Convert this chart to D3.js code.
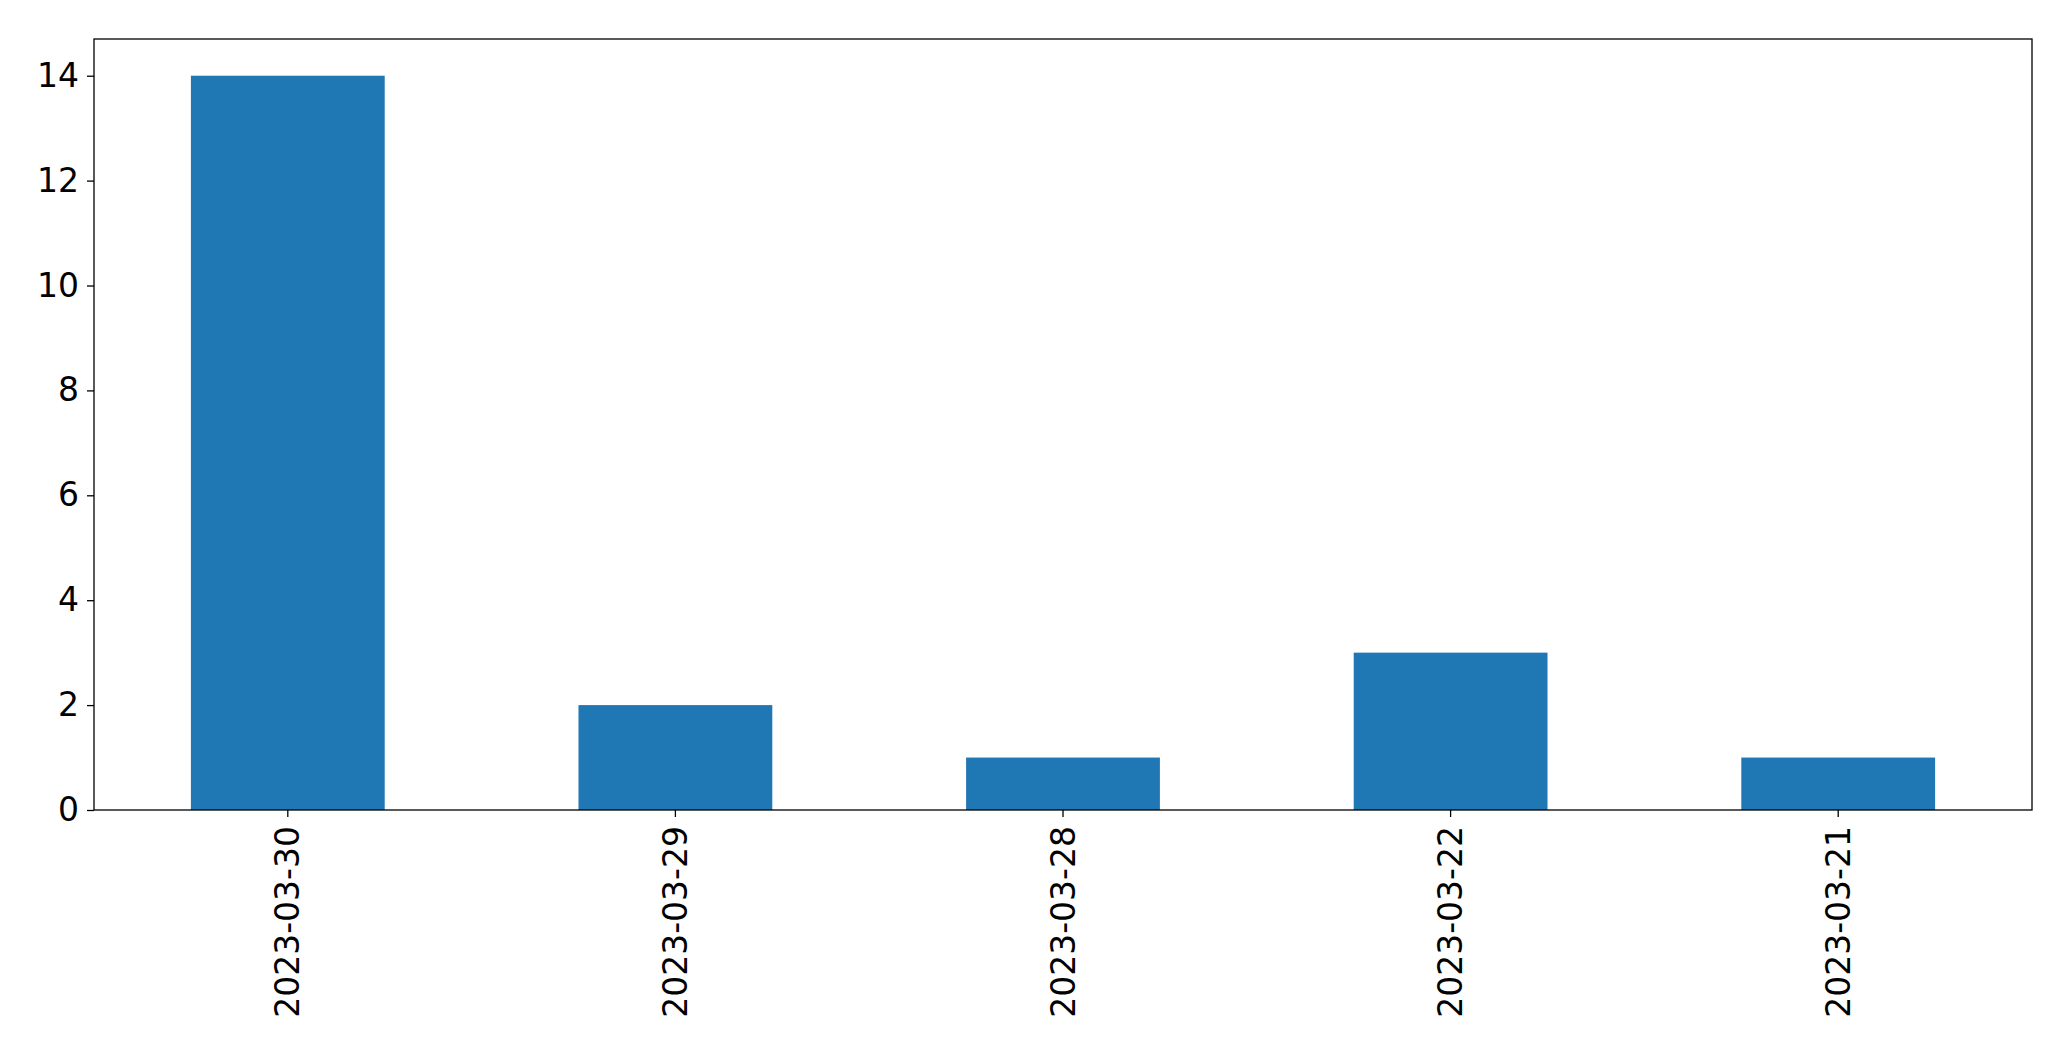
<!DOCTYPE html>
<html>
<head>
<meta charset="utf-8">
<script src="https://cdn.jsdelivr.net/npm/d3@7"></script>
<style>
  body { margin: 0; background: #fff; }
  text { font-family: "DejaVu Sans", sans-serif; }
</style>
</head>
<body>
<svg id="chart" width="2071" height="1061"></svg>
<script>
// Donnees
var dates = ["2023-03-30", "2023-03-29", "2023-03-28", "2023-03-22", "2023-03-21"];
var counts = [14, 2, 1, 3, 1];
var yTicks = [0, 2, 4, 6, 8, 10, 12, 14];

var margin = {top: 39, right: 39, bottom: 251, left: 94};
var width = 2071 - margin.left - margin.right;
var height = 1061 - margin.top - margin.bottom;

var svg = d3.select("#chart");
var g = svg.append("g").attr("transform", "translate(" + margin.left + "," + margin.top + ")");

var x = d3.scaleBand().domain(dates).range([0, width]).paddingInner(0.5).paddingOuter(0.25);
var y = d3.scaleLinear().domain([0, 14 * 1.05]).range([height, 0]);

g.selectAll("rect.bar")
  .data(dates)
  .enter().append("rect")
  .attr("class", "bar")
  .attr("x", function(d) { return x(d); })
  .attr("width", x.bandwidth())
  .attr("y", function(d, i) { return y(counts[i]); })
  .attr("height", function(d, i) { return height - y(counts[i]); })
  .attr("fill", "#1f77b4");

// Axes
var yAxis = g.append("g")
  .call(d3.axisLeft(y).tickValues(yTicks).tickSize(7).tickPadding(8).tickFormat(d3.format("d")));
var xAxis = g.append("g")
  .attr("transform", "translate(0," + height + ")")
  .call(d3.axisBottom(x).tickSize(7).tickPadding(8));

[xAxis, yAxis].forEach(function(a) {
  a.select(".domain").remove();
  a.selectAll("line").attr("stroke", "#000").attr("stroke-width", 1.3);
  a.selectAll("text").attr("font-size", 33).attr("fill", "#000");
});

xAxis.selectAll("text")
  .attr("transform", "rotate(-90)")
  .attr("text-anchor", "end")
  .attr("x", -16)
  .attr("y", 0)
  .attr("dy", "0.35em");

// Cadre
g.append("rect")
  .attr("width", width).attr("height", height)
  .attr("fill", "none").attr("stroke", "#000").attr("stroke-width", 1.3);
</script>
</body>
</html>
